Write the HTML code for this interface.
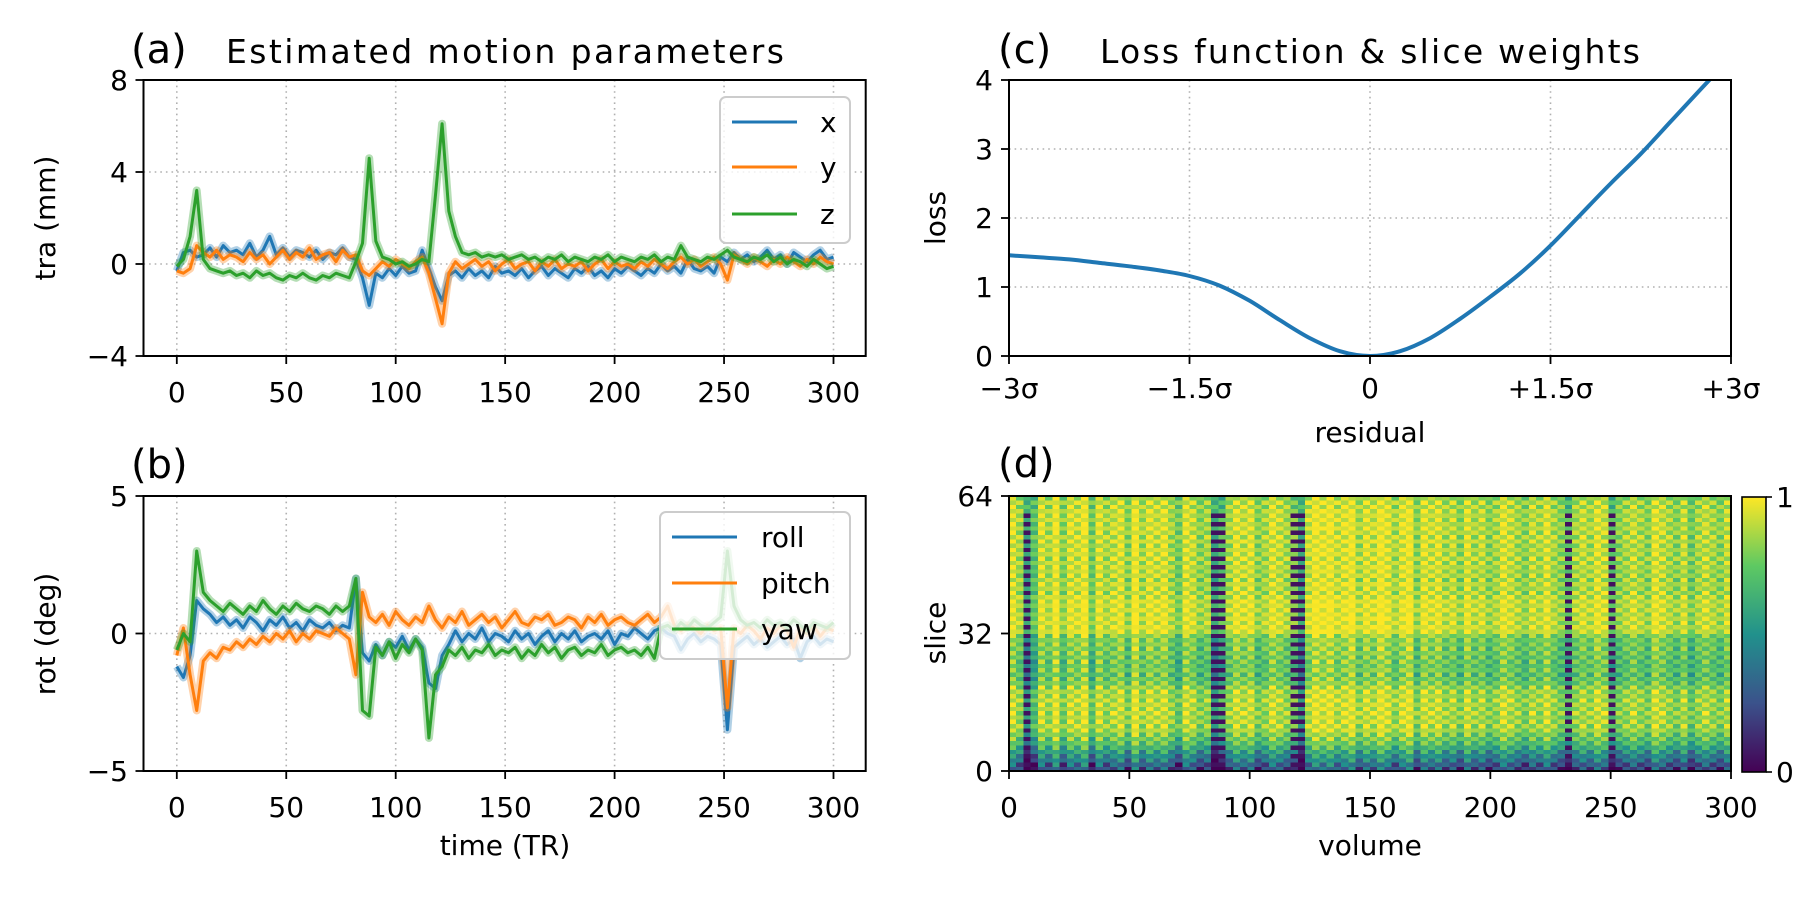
<!DOCTYPE html>
<html><head><meta charset="utf-8"><style>
html,body{margin:0;padding:0;background:#fff}
svg{display:block;font-family:"DejaVu Sans","Liberation Sans",sans-serif}
</style></head><body>
<svg id="fig" width="1800" height="900" viewBox="0 0 1800 900" xmlns="http://www.w3.org/2000/svg">
<defs>
<clipPath id="clipA"><rect x="143.5" y="80" width="722" height="276"/></clipPath>
<clipPath id="clipB"><rect x="143.5" y="496" width="722" height="275"/></clipPath>
<clipPath id="clipC"><rect x="1009" y="80" width="722" height="276"/></clipPath>
<linearGradient id="viridis" x1="0" y1="1" x2="0" y2="0">
<stop offset="0" stop-color="#440154"/><stop offset="0.25" stop-color="#3b528b"/><stop offset="0.5" stop-color="#21918c"/><stop offset="0.75" stop-color="#5ec962"/><stop offset="1" stop-color="#fde725"/>
</linearGradient>
</defs>
<g id="layer"></g>
</svg>
<script>
// ---- panel (a) translation data (mm), evenly spaced over 0..300 TR
const aX=[-0.3,0.5,0.6,0.3,0.4,0.7,0.3,0.8,0.5,0.6, 0.4,0.9,0.3,0.6,1.2,0.4,0.7,0.3,0.6,0.5, 0.3,0.6,0.2,0.5,0.4,0.7,0.3,0.2,-0.6,-1.8, -0.4,-0.6,-0.2,-0.5,-0.1,-0.4,-0.3,0.6,-0.2,-1.0, -1.6,-0.5,-0.3,-0.6,-0.2,-0.5,-0.3,-0.6,-0.1,-0.4, -0.3,-0.5,-0.2,-0.6,-0.3,-0.1,-0.5,-0.2,-0.4,-0.6, -0.2,-0.4,-0.1,-0.5,-0.3,-0.6,-0.2,-0.4,-0.1,-0.3, -0.5,-0.2,-0.4,0.0,-0.3,-0.1,-0.4,0.2,-0.2,-0.3, -0.1,-0.4,0.3,0.1,0.5,0.2,0.4,0.1,0.3,0.6, 0.2,0.4,0.0,0.5,0.3,0.1,0.4,0.6,0.2,0.3];
const aY=[-0.3,-0.4,-0.2,0.8,0.5,0.3,0.6,0.2,0.4,0.3, 0.1,0.5,0.2,0.4,0.0,0.3,0.6,0.2,0.5,0.3, 0.7,0.2,0.4,0.5,0.1,0.6,0.3,0.4,-0.3,-0.5, -0.2,0.1,-0.1,0.2,0.0,-0.2,0.1,0.3,-0.4,-1.5, -2.6,-0.4,0.1,-0.2,0.0,0.2,-0.1,0.1,-0.3,0.0, 0.2,-0.2,0.0,0.1,-0.3,0.1,-0.1,0.2,-0.2,0.0, -0.1,0.1,-0.3,0.0,0.2,-0.2,0.1,-0.1,0.0,-0.2, 0.1,-0.1,0.2,0.0,-0.2,0.1,0.3,0.0,0.2,-0.1, 0.1,0.3,0.0,-0.7,0.4,0.2,0.0,0.3,0.1,-0.1, 0.2,0.0,0.3,0.1,-0.1,0.2,0.0,0.3,0.1,0.0];
const aZ=[-0.1,0.2,1.2,3.2,0.2,-0.2,-0.3,-0.4,-0.3,-0.5, -0.4,-0.6,-0.3,-0.5,-0.4,-0.6,-0.7,-0.5,-0.6,-0.4, -0.6,-0.7,-0.5,-0.6,-0.4,-0.5,-0.6,0.1,0.9,4.6, 1.0,0.3,0.2,0.0,0.1,-0.1,0.0,0.2,0.1,3.0, 6.1,2.3,1.2,0.5,0.4,0.5,0.3,0.4,0.3,0.4, 0.2,0.3,0.4,0.2,0.3,0.1,0.3,0.2,0.4,0.1, 0.3,0.2,0.1,0.3,0.2,0.4,0.1,0.3,0.2,0.1, 0.3,0.2,0.4,0.1,0.3,0.2,0.8,0.3,0.2,0.1, 0.3,0.2,0.4,0.6,0.3,0.2,0.1,0.3,0.2,0.4, 0.1,0.3,0.0,0.2,0.1,-0.1,0.2,0.0,-0.2,-0.1];
// ---- panel (b) rotation data (deg)
const bRoll=[-1.2,-1.6,-0.8,1.2,0.9,0.7,0.4,0.6,0.3,0.5, 0.2,0.6,0.4,0.1,0.5,0.3,0.6,0.2,0.4,0.1, 0.5,0.3,0.2,0.4,0.1,0.3,0.2,2.0,-0.7,-1.0, -0.4,-0.8,-0.3,-0.5,-0.1,-0.6,-0.2,-0.5,-1.8,-2.0, -0.8,-0.4,0.1,-0.3,0.0,-0.2,0.2,-0.3,0.0,-0.1, -0.3,0.1,-0.2,0.0,-0.4,-0.1,0.1,-0.3,0.0,-0.2, 0.1,-0.3,-0.1,0.0,-0.2,0.1,-0.4,0.0,-0.1,0.2, 0.0,-0.2,0.1,0.2,0.0,-0.1,-0.6,-0.2,0.0,-0.3, -0.1,-0.2,-0.4,-3.5,-0.5,-0.3,-0.1,-0.4,-0.2,-0.5, -0.3,-0.1,-0.4,-0.2,-0.9,-0.3,-0.1,-0.4,-0.2,-0.3];
const bPitch=[-0.8,0.2,-1.5,-2.8,-1.0,-0.7,-0.9,-0.5,-0.6,-0.3, -0.5,-0.2,-0.4,-0.1,-0.3,0.0,-0.2,0.1,-0.3,0.0, -0.2,0.1,0.0,-0.1,0.2,0.0,-0.2,-1.5,1.5,0.6, 0.4,0.7,0.3,0.8,0.5,0.3,0.6,0.4,1.0,0.5, 0.2,0.6,0.4,0.8,0.3,0.5,0.7,0.4,0.6,0.2, 0.5,0.8,0.4,0.3,0.6,0.5,0.7,0.3,0.4,0.6, 0.5,0.2,0.6,0.4,0.7,0.3,0.5,0.6,0.4,0.3, 0.5,0.7,0.4,0.6,1.0,0.3,0.1,0.3,0.2,0.0, 0.3,0.1,0.2,-2.7,0.2,0.0,0.3,0.1,-0.2,0.2, 0.0,0.3,0.1,-0.5,0.2,0.0,0.3,-0.1,0.2,0.1];
const bYaw=[-0.6,0.0,-0.3,3.0,1.5,1.2,1.0,0.8,1.1,0.9, 0.7,1.0,0.8,1.2,0.9,0.7,1.0,0.8,1.1,0.9, 0.8,1.0,0.9,0.7,1.0,0.8,1.0,2.0,-2.8,-3.0, -0.5,-0.8,-0.3,-0.9,-0.4,-0.7,-0.2,-0.6,-3.8,-1.5, -1.2,-0.6,-0.8,-0.5,-0.9,-0.6,-0.7,-0.4,-0.8,-0.6, -0.7,-0.5,-0.9,-0.6,-0.8,-0.4,-0.7,-0.5,-0.9,-0.6, -0.5,-0.8,-0.6,-0.7,-0.4,-0.8,-0.6,-0.5,-0.7,-0.6, -0.8,-0.5,-0.9,0.2,0.3,0.1,0.4,0.2,0.5,0.3, 0.2,0.4,0.6,3.0,1.0,0.5,0.3,0.4,0.2,0.5, 0.3,0.4,0.2,0.5,0.3,0.1,0.4,0.3,0.2,0.4];
const timeTicks=[0,50,100,150,200,250,300];
const aTicks=[-4,0,4,8];
const bTicks=[-5,0,5];
// ---- panel (c) loss curve
const residuals=[-3,-2.75,-2.5,-2.25,-2,-1.75,-1.5,-1.25,-1,-0.75,-0.5,-0.25,0,0.25,0.5,0.75,1,1.25,1.5,1.75,2,2.25,2.5,2.75,3];
const lossValues=[1.46,1.43,1.40,1.35,1.30,1.24,1.16,1.02,0.80,0.52,0.26,0.07,0,0.07,0.26,0.54,0.86,1.2,1.6,2.05,2.5,2.93,3.4,3.87,4.33];
const residTicks=[-3,-1.5,0,1.5,3];
const residTickLabels=["\u22123\u03c3","\u22121.5\u03c3","0","+1.5\u03c3","+3\u03c3"];
const lossTicks=[0,1,2,3,4];
// ---- panel (d) slice weights
const rowMean=[0.35,0.4,0.5,0.55,0.62,0.7,0.78,0.82,0.85,0.92,0.93,0.94,0.92,0.95,0.93,0.94,0.95,0.92,0.93,0.9,0.84,0.82,0.8,0.84,0.8,0.83,0.82,0.85,0.84,0.86,0.85,0.88,0.98,0.99,0.98,0.99,0.97,0.99,0.98,0.99,0.97,0.95,0.94,0.96,0.93,0.95,0.94,0.96,0.95,0.96,0.95,0.96,0.94,0.97,0.96,0.95,0.97,0.95,0.96,0.95,0.96,0.94,0.95,0.9];
const rowJit=[0.05,-0.05,0.04,-0.03,0.05,-0.04,0.03,-0.05,0.04,-0.02,0.05,-0.04,0.02,-0.05,0.03,-0.03,0.05,-0.02,0.04,-0.05,0.03,-0.04,0.05,-0.03,0.02,-0.05,0.04,-0.03,0.05,-0.02,0.03,-0.04,0.02,-0.03,0.04,-0.02,0.03,-0.04,0.02,-0.03,0.04,-0.05,0.03,-0.02,0.05,-0.04,0.02,-0.03,0.04,-0.05,0.03,-0.02,0.04,-0.03,0.05,-0.04,0.02,-0.03,0.04,-0.02,0.03,-0.05,0.04,-0.03];
const colQ=[0,-0.1,-0.3,-0.25,0,-0.1,0.05,-0.15,0,-0.05, 0.05,-0.2,0,-0.1,-0.05,0,-0.15,0.05,-0.1,0, -0.05,0,-0.1,-0.2,0,-0.05,-0.15,-0.1,-0.3,-0.3, -0.1,0,-0.05,0,-0.15,-0.1,0,-0.05,-0.1,-0.2, -0.3,-0.05,0.05,0,0.05,-0.05,0,0.05,-0.1,0, -0.05,0.05,0,-0.1,0,0.05,-0.15,0,-0.05,0, -0.1,-0.05,-0.15,0,-0.1,-0.05,-0.15,-0.1,0,-0.05, -0.1,-0.15,-0.05,-0.1,0,-0.1,-0.15,-0.3,-0.1,-0.05, -0.1,0,-0.05,-0.3,-0.15,-0.1,-0.05,-0.1,-0.15,0, -0.05,-0.1,-0.15,-0.05,-0.2,-0.1,-0.05,-0.1,-0.15,-0.05];
const badCols=[2,28,29,39,40,77,83];
const volumeTicks=[0,50,100,150,200,250,300];
const sliceTicks=[0,32,64];

const NS="http://www.w3.org/2000/svg";
const root=document.getElementById('layer');
function mk(tag,attrs,parent){const e=document.createElementNS(NS,tag);for(const k in attrs)e.setAttribute(k,attrs[k]);(parent||root).appendChild(e);return e;}
function txt(x,y,s,size,anchor,parent,extra){const t=mk('text',Object.assign({x:x,y:y,'font-size':size,'text-anchor':anchor||'start',fill:'#000'},extra||{}),parent);t.textContent=s;return t;}

const C={blue:'#1f77b4',orange:'#ff7f0e',green:'#2ca02c'};
function linearScale(d0,d1,r0,r1){return v=>r0+(v-d0)*(r1-r0)/(d1-d0);}

function timePanel(o){
  const g=mk('g',{});
  
  
  const sx=linearScale(0,300,176.8,833.5), sy=linearScale(o.y0v,o.y1v,o.y0p,o.y1p);
  timeTicks.forEach(t=>{const l=mk('line',{x1:sx(t),x2:sx(t),y1:o.top,y2:o.bottom,stroke:'#b0b0b0','stroke-width':1.6,'stroke-dasharray':'1.6 4'},g);
    });
  o.yticks.forEach(v=>{const l=mk('line',{x1:143.5,x2:865.7,y1:sy(v),y2:sy(v),stroke:'#b0b0b0','stroke-width':1.6,'stroke-dasharray':'1.6 4'},g);
    });
  const sg=mk('g',{'clip-path':'url('+o.clip+')'},g);
  o.series.forEach(s=>{
    const n=s.data.length;
    const pts=s.data.map((v,i)=>sx(i*300/(n-1)).toFixed(1)+','+sy(v).toFixed(1)).join(' ');
    const band=mk('polyline',{points:pts,fill:'none',stroke:s.color,'stroke-width':8,'stroke-opacity':0.35,'stroke-linejoin':'round'},sg);
    
    
    const pl=mk('polyline',{points:pts,fill:'none',stroke:s.color,'stroke-width':3,'stroke-linejoin':'round'},sg);
    
    
  });
  const fr=mk('rect',{x:143.5,y:o.top,width:722.2,height:o.bottom-o.top,fill:'none',stroke:'#000','stroke-width':2},g);
  
  timeTicks.forEach(t=>{mk('line',{x1:sx(t),x2:sx(t),y1:o.bottom,y2:o.bottom+8,stroke:'#000','stroke-width':1.8},g);
    const tl=txt(sx(t),o.bottom+46,String(t),28,'middle',g);
    });
  o.yticks.forEach(v=>{mk('line',{x1:135.5,x2:143.5,y1:sy(v),y2:sy(v),stroke:'#000','stroke-width':1.8},g);
    const tl=txt(128,sy(v)+10,String(v).replace('-','\u2212'),28,'end',g);
    });
  const lg=mk('g',{},g);
  
  mk('rect',{x:o.leg.x,y:o.leg.y,width:o.leg.w,height:o.leg.h,rx:6,fill:'rgba(255,255,255,0.8)',stroke:'#cccccc','stroke-width':2},lg);
  o.series.forEach((s,i)=>{const yy=o.leg.ly[i];
    const e=mk('g',{},lg);
    mk('line',{x1:o.leg.lx,x2:o.leg.lx+65,y1:yy,y2:yy,stroke:s.color,'stroke-width':3},e);
    txt(o.leg.tx,yy+10,s.label,28,'start',e);});
}

timePanel({name:'panel-a-translation',top:80,bottom:356,y0v:-4,y1v:8,y0p:356,y1p:80,yticks:aTicks,clip:'#clipA',
  series:[{label:'x',data:aX,color:C.blue},{label:'y',data:aY,color:C.orange},{label:'z',data:aZ,color:C.green}],
  leg:{x:720,y:97,w:130,h:146,lx:732,tx:820,ly:[122,167,214]}});
timePanel({name:'panel-b-rotation',top:496,bottom:771,y0v:-5,y1v:5,y0p:771,y1p:496,yticks:bTicks,clip:'#clipB',
  series:[{label:'roll',data:bRoll,color:C.blue},{label:'pitch',data:bPitch,color:C.orange},{label:'yaw',data:bYaw,color:C.green}],
  leg:{x:660,y:512,w:190,h:147,lx:672,tx:761,ly:[537,583,629]}});

[[131,63,'(a)',40],[131,478,'(b)',40],[998,63,'(c)',40],[998,477,'(d)',40]].forEach(a=>{
  const t=txt(a[0],a[1],a[2],a[3]);});
let t1=txt(226,63,'Estimated motion parameters',33,'start',null,{textLength:558});

let t2=txt(1100,63,'Loss function & slice weights',33,'start',null,{textLength:540});

function ylab(x,y,s,name){const t=txt(0,0,s,28,'middle',null,{transform:'translate('+x+','+y+') rotate(-90)'});}
ylab(55,218,'tra (mm)','y-axis-title-tra');
ylab(55,634,'rot (deg)','y-axis-title-rot');
ylab(945,218,'loss','y-axis-title-loss');
ylab(945,633,'slice','y-axis-title-slice');
let xl=txt(505,855,'time (TR)',28,'middle');
xl=txt(1370,442,'residual',28,'middle');
xl=txt(1370,855,'volume',28,'middle');

// panel (c)
(function(){
  const g=mk('g',{});
  const sx=linearScale(-3,3,1009,1731), sy=linearScale(0,4,356,80);
  residTicks.forEach(v=>{mk('line',{x1:sx(v),x2:sx(v),y1:80,y2:356,stroke:'#b0b0b0','stroke-width':1.6,'stroke-dasharray':'1.6 4'},g);});
  lossTicks.forEach(v=>{mk('line',{x1:1009,x2:1731,y1:sy(v),y2:sy(v),stroke:'#b0b0b0','stroke-width':1.6,'stroke-dasharray':'1.6 4'},g);});
  const P=residuals.map((r,i)=>[sx(r),sy(lossValues[i])]);
  let d='M'+P[0][0].toFixed(1)+','+P[0][1].toFixed(1);
  for(let i=0;i<P.length-1;i++){
    const p0=P[Math.max(0,i-1)],p1=P[i],p2=P[i+1],p3=P[Math.min(P.length-1,i+2)];
    const c1=[p1[0]+(p2[0]-p0[0])/6,p1[1]+(p2[1]-p0[1])/6],c2=[p2[0]-(p3[0]-p1[0])/6,p2[1]-(p3[1]-p1[1])/6];
    d+=' C'+c1[0].toFixed(1)+','+c1[1].toFixed(1)+' '+c2[0].toFixed(1)+','+c2[1].toFixed(1)+' '+p2[0].toFixed(1)+','+p2[1].toFixed(1);
  }
  const cg=mk('g',{'clip-path':'url(#clipC)'},g);
  const pl=mk('path',{d:d,fill:'none',stroke:C.blue,'stroke-width':4,'stroke-linejoin':'round'},cg);
  
  mk('rect',{x:1009,y:80,width:722,height:276,fill:'none',stroke:'#000','stroke-width':2},g);
  residTicks.forEach((v,i)=>{mk('line',{x1:sx(v),x2:sx(v),y1:356,y2:364,stroke:'#000','stroke-width':1.8},g);
    const t=txt(sx(v),398,residTickLabels[i],28,'middle',g);});
  lossTicks.forEach(v=>{mk('line',{x1:1001,x2:1009,y1:sy(v),y2:sy(v),stroke:'#000','stroke-width':1.8},g);
    const t=txt(993,sy(v)+10,String(v),28,'end',g);});
})();

// panel (d)
function viridis(v){
  const st=[[0,[68,1,84]],[0.25,[59,82,139]],[0.5,[33,145,140]],[0.75,[94,201,98]],[1,[253,231,37]]];
  v=Math.max(0,Math.min(1,v));
  for(let i=0;i<st.length-1;i++){if(v<=st[i+1][0]){const f=(v-st[i][0])/(st[i+1][0]-st[i][0]);const a=st[i][1],b=st[i+1][1];
    return 'rgb('+a.map((c,k)=>Math.round(c+(b[k]-c)*f)).join(',')+')';}}
  return 'rgb(253,231,37)';
}
(function(){
  const g=mk('g',{});
  const sx=linearScale(0,300,1009,1731), sy=linearScale(0,64,771,496);
  const hm=mk('g',{'shape-rendering':'crispEdges'},g);
  
  const nc=colQ.length, w=300/nc;
  for(let c=0;c<nc;c++){
    for(let r=0;r<rowMean.length;r++){
      let v=rowMean[r]+colQ[c]*(1.9-rowMean[r])+rowJit[r]*((c%2)?1:-1)*2;
      if(badCols.indexOf(c)>=0 && r%2===1 && r<60) v=0.05;
      const x0=sx(c*w), x1=sx((c+1)*w), y0=sy(r+1), y1=sy(r);
      mk('rect',{x:x0.toFixed(2),y:y0.toFixed(2),width:(x1-x0+0.3).toFixed(2),height:(y1-y0+0.3).toFixed(2),fill:viridis(v)},hm);
    }
  }
  mk('rect',{x:1009,y:496,width:722,height:275,fill:'none',stroke:'#000','stroke-width':2},g);
  volumeTicks.forEach(v=>{mk('line',{x1:sx(v),x2:sx(v),y1:771,y2:779,stroke:'#000','stroke-width':1.8},g);
    const t=txt(sx(v),817,String(v),28,'middle',g);});
  sliceTicks.forEach(v=>{mk('line',{x1:1001,x2:1009,y1:sy(v),y2:sy(v),stroke:'#000','stroke-width':1.8},g);
    const t=txt(993,sy(v)+10,String(v),28,'end',g);});
  const cb=mk('g',{},g);
  mk('rect',{x:1742,y:497,width:24,height:275,fill:'url(#viridis)',stroke:'#000','stroke-width':1.6},cb);
  mk('line',{x1:1766,x2:1772,y1:497,y2:497,stroke:'#000','stroke-width':1.6},cb);
  mk('line',{x1:1766,x2:1772,y1:772,y2:772,stroke:'#000','stroke-width':1.6},cb);
  txt(1776,507,'1',28,'start',cb);
  txt(1776,782,'0',28,'start',cb);
})();
</script>
</body></html>
